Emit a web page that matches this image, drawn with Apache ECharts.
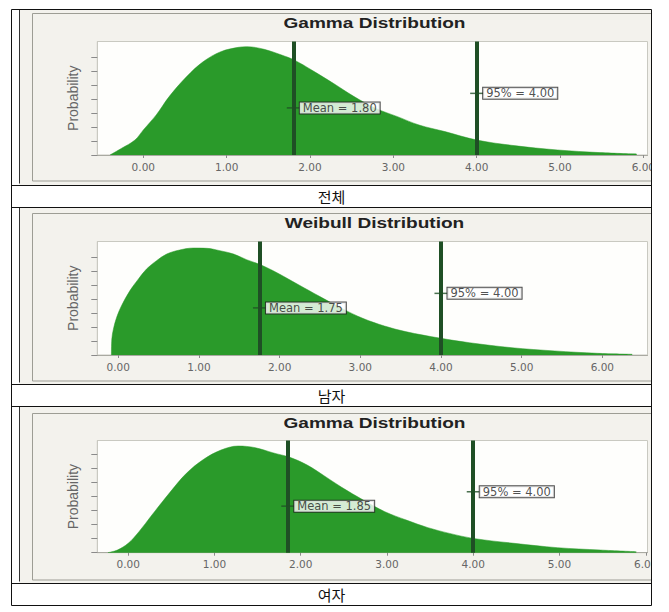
<!DOCTYPE html>
<html>
<head>
<meta charset="utf-8">
<script src="https://cdn.jsdelivr.net/npm/echarts@6/dist/echarts.min.js"></script>
<style>
html,body{margin:0;padding:0;background:#fff;}
#chart{width:669px;height:612px;}
</style>
</head>
<body>
<div id="chart"></div>
<script>
// ---------------- DATA ----------------
const titles = ['Gamma Distribution', 'Weibull Distribution', 'Gamma Distribution'];
const captions = ['전체', '남자', '여자'];
const xTickValues = [0, 1, 2, 3, 4, 5, 6];
const yTickValues = [0, 1, 2, 3, 4, 5, 6, 7];
const means = [1.80, 1.75, 1.85];
const pct95 = [4.00, 4.00, 4.00];

// 전체 (Gamma)
const xAll = [-0.40, -0.26, -0.10, 0.00, 0.155, 0.31, 0.52, 0.72, 0.93, 1.14, 1.24, 1.45, 1.66, 1.81, 2.02, 2.28, 2.53, 2.79, 3.05, 3.31, 3.62, 4.00, 4.45, 4.97, 5.48, 5.92];
const densAll = [0, 0.48, 1.07, 1.79, 2.86, 4.17, 5.60, 6.67, 7.38, 7.69, 7.74, 7.55, 7.14, 6.79, 6.07, 5.12, 4.17, 3.33, 2.74, 2.14, 1.67, 1.07, 0.67, 0.36, 0.17, 0.07];

// 남자 (Weibull)
const xMale = [-0.085, -0.08, -0.06, -0.02, 0.04, 0.145, 0.25, 0.35, 0.475, 0.60, 0.76, 0.93, 1.10, 1.26, 1.43, 1.59, 1.74, 1.92, 2.24, 2.50, 2.77, 3.03, 3.30, 3.56, 4.00, 4.35, 4.88, 5.41, 5.94, 6.37];
const densMale = [0, 1.14, 1.86, 2.69, 3.52, 4.60, 5.43, 6.14, 6.74, 7.21, 7.50, 7.64, 7.62, 7.45, 7.21, 6.81, 6.50, 6.02, 5.00, 4.17, 3.33, 2.62, 2.07, 1.67, 1.19, 0.88, 0.52, 0.29, 0.12, 0.05];

// 여자 (Gamma)
const xFemale = [-0.235, -0.125, 0.00, 0.125, 0.275, 0.475, 0.675, 0.875, 1.075, 1.275, 1.475, 1.675, 1.875, 2.075, 2.275, 2.475, 2.725, 2.975, 3.225, 3.475, 3.725, 4.00, 4.475, 4.975, 5.475, 5.89];
const densFemale = [0, 0.19, 0.67, 1.50, 2.69, 4.24, 5.67, 6.67, 7.33, 7.62, 7.50, 7.14, 6.81, 6.26, 5.48, 4.67, 3.76, 2.93, 2.33, 1.79, 1.38, 1.02, 0.67, 0.36, 0.19, 0.07];

const xAxisMin = [-0.552, -0.26, -0.358];
const xAxisMax = [6.05, 6.56, 6.02];

// ---------------- LAYOUT / STYLE ----------------
const xs = [xAll, xMale, xFemale];
const ys = [densAll, densMale, densFemale];
const rowTop = [9.5, 207.5, 406.5];
const rowMid = [185.5, 384.5, 583.5];
const rowBottom = [207.5, 406.5, 605.5];
const frameTop = [13.5, 213.5, 413.5];
const frameBottom = [181, 381, 580];
const plotTop = [41.5, 241.5, 440.5];
const plotBottom = [155, 355, 552.7];
const titleY = [23.3, 223.3, 423.3];
const PX_PER_UNIT = 14;
const tableLeft = 11.5, tableRight = 651.5, innerLeft = 19.5, frameLeft = 32.5;
const plotLeft = 97.3, plotRight = 647.5;
const GREEN = '#2a9a2a', DARK = '#1f4f25', PANEL_BG = '#f3f2ed';
const LABEL_FRAC = [0.415, 0.543];

const grids = [], xAxes = [], yAxes = [], series = [], graphics = [];

for (let i = 0; i < 3; i++) {
  const h = plotBottom[i] - plotTop[i];
  const yMax = h / PX_PER_UNIT;
  grids.push({
    left: plotLeft, width: plotRight - plotLeft, top: plotTop[i], height: h,
    show: true, backgroundColor: '#fefefc', borderColor: '#c9c9c1', borderWidth: 1
  });
  xAxes.push({
    type: 'value', gridIndex: i, min: xAxisMin[i], max: xAxisMax[i],
    splitLine: { show: false },
    axisLine: { show: true, onZero: false, lineStyle: { color: '#a9a9a1', width: 1 } },
    axisTick: { show: true, length: 3, customValues: xTickValues, lineStyle: { color: '#8a8a8a' } },
    axisLabel: {
      show: true, customValues: xTickValues, margin: 6,
      formatter: v => v.toFixed(2),
      fontFamily: 'DejaVu Sans', fontSize: 10.5, color: '#666'
    }
  });
  yAxes.push({
    type: 'value', gridIndex: i, min: 0, max: yMax,
    name: 'Probability', nameLocation: 'middle', nameGap: 17,
    nameTextStyle: { fontFamily: 'Liberation Sans', fontSize: 14, color: '#666' },
    splitLine: { show: false },
    axisLine: { show: true, onZero: false, lineStyle: { color: '#c9c9c1' } },
    axisTick: { show: true, inside: false, length: 6, customValues: yTickValues, lineStyle: { color: '#8a8a8a' } },
    axisLabel: { show: false }
  });
  series.push({
    type: 'line', xAxisIndex: i, yAxisIndex: i,
    data: xs[i].map((x, k) => [x, ys[i][k]]),
    smooth: 0.35, showSymbol: false, symbol: 'none',
    lineStyle: { width: 0.5, color: GREEN },
    areaStyle: { color: GREEN, opacity: 1 },
    silent: true, animation: false,
    markLine: {
      silent: true, symbol: 'none', animation: false,
      label: { show: false },
      lineStyle: { color: DARK, width: 4, type: 'solid' },
      data: [{ xAxis: means[i] }, { xAxis: pct95[i] }]
    }
  });
  series.push({
    type: 'scatter', xAxisIndex: i, yAxisIndex: i, z: 5,
    symbol: 'rect', symbolSize: [13, 1.5],
    itemStyle: { color: DARK },
    silent: true, animation: false,
    data: [
      [means[i], yMax * LABEL_FRAC[0], 'Mean = ' + means[i].toFixed(2)],
      [pct95[i], yMax * LABEL_FRAC[1], '95% = ' + pct95[i].toFixed(2)]
    ],
    label: {
      show: true, position: 'right', distance: 0,
      formatter: p => p.value[2],
      fontFamily: 'DejaVu Sans', fontSize: 11.5, color: '#222', lineHeight: 10,
      backgroundColor: '#fff', borderColor: '#222', borderWidth: 1,
      padding: [1, 3, 0, 3]
    }
  });

  // panel (chart image) background & frame
  graphics.push({
    type: 'rect', z: -20, silent: true,
    shape: { x: innerLeft, y: rowTop[i], width: tableRight - innerLeft, height: rowMid[i] - rowTop[i] },
    style: { fill: PANEL_BG }
  });
  graphics.push({
    type: 'rect', z: -19, silent: true,
    shape: { x: frameLeft, y: frameTop[i], width: tableRight - frameLeft + 2, height: frameBottom[i] - frameTop[i] },
    style: { fill: PANEL_BG, stroke: '#9d9d95', lineWidth: 1 }
  });
  // title
  graphics.push({
    type: 'text', z: 50, silent: true, x: 374.5, y: titleY[i], scaleX: 1.36,
    style: {
      text: titles[i], fill: '#222',
      font: 'bold 14px "Liberation Sans", Arial, sans-serif',
      align: 'center', verticalAlign: 'middle', textAlign: 'center', textVerticalAlign: 'middle'
    }
  });
  // caption
  graphics.push({
    type: 'text', z: 50, silent: true, x: (tableLeft + tableRight) / 2, y: (rowMid[i] + rowBottom[i]) / 2,
    style: {
      text: captions[i], fill: '#111',
      font: '15px "Noto Sans CJK KR", sans-serif',
      align: 'center', verticalAlign: 'middle', textAlign: 'center', textVerticalAlign: 'middle'
    }
  });
  // inner left line of chart image
  graphics.push({
    type: 'line', z: 60, silent: true,
    shape: { x1: innerLeft, y1: rowTop[i], x2: innerLeft, y2: rowMid[i] - 2 },
    style: { stroke: '#333', lineWidth: 1 }
  });
}

// white cover beyond the table on the right
graphics.push({
  type: 'rect', z: 55, silent: true,
  shape: { x: tableRight - 0.5, y: 0, width: 20, height: 612 },
  style: { fill: '#fff' }
});
// table lines
const hLines = [rowTop[0], rowMid[0], rowMid[1], rowMid[2], rowBottom[0], rowBottom[1], rowBottom[2]];
hLines.forEach(y => graphics.push({
  type: 'line', z: 60, silent: true,
  shape: { x1: tableLeft, y1: y, x2: tableRight, y2: y },
  style: { stroke: '#111', lineWidth: 1 }
}));
[tableLeft, tableRight].forEach(x => graphics.push({
  type: 'line', z: 60, silent: true,
  shape: { x1: x, y1: rowTop[0], x2: x, y2: rowBottom[2] },
  style: { stroke: '#111', lineWidth: 1 }
}));

const chart = echarts.init(document.getElementById('chart'), null, { renderer: 'svg' });
chart.setOption({
  animation: false,
  grid: grids,
  xAxis: xAxes,
  yAxis: yAxes,
  series: series,
  graphic: { elements: graphics }
});
</script>
</body>
</html>
